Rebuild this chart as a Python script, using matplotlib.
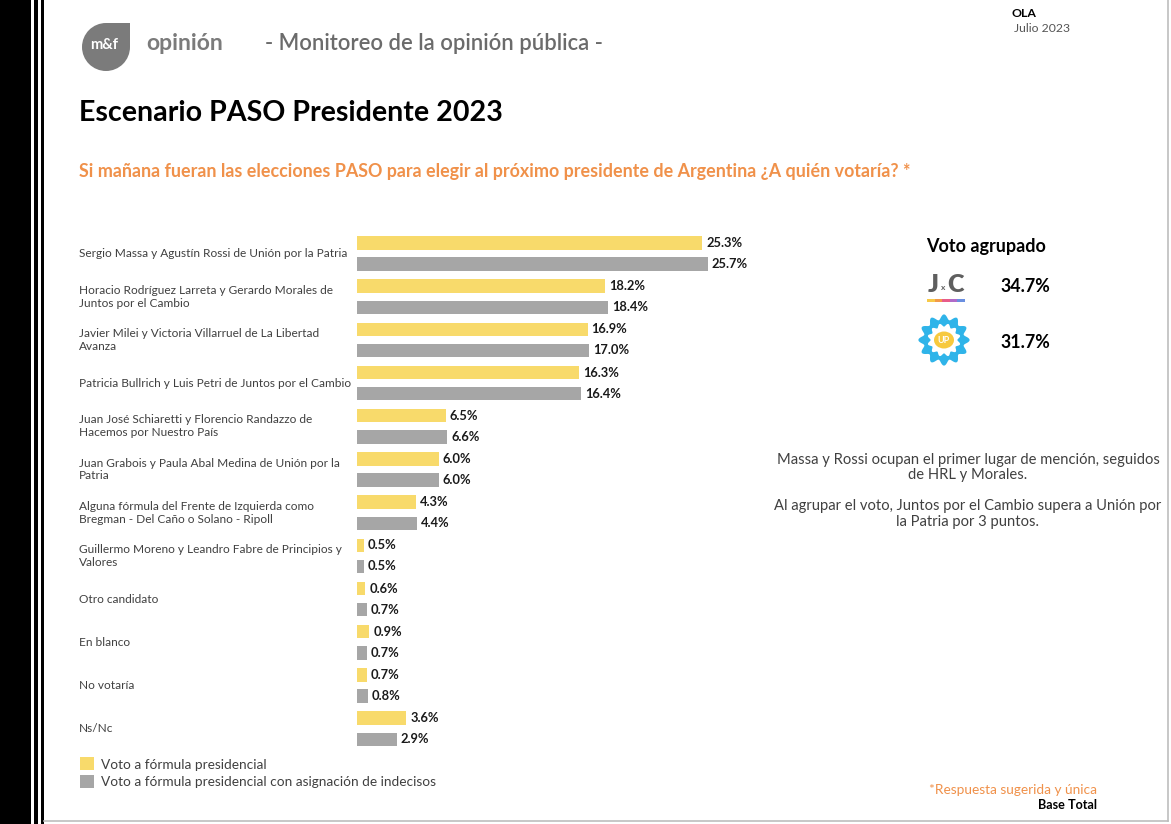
import numpy as np
import matplotlib
matplotlib.use("Agg")
import matplotlib.pyplot as plt
import matplotlib.transforms as mtransforms
from matplotlib.patches import Rectangle, Circle, Polygon, Ellipse

W, H = 1171, 824

categories = [
    "Sergio Massa y Agustín Rossi de Unión por la Patria",
    "Horacio Rodríguez Larreta y Gerardo Morales de\nJuntos por el Cambio",
    "Javier Milei y Victoria Villarruel de La Libertad\nAvanza",
    "Patricia Bullrich y Luis Petri de Juntos por el Cambio",
    "Juan José Schiaretti y Florencio Randazzo de\nHacemos por Nuestro País",
    "Juan Grabois y Paula Abal Medina de Unión por la\nPatria",
    "Alguna fórmula del Frente de Izquierda como\nBregman - Del Caño o Solano - Ripoll",
    "Guillermo Moreno y Leandro Fabre de Principios y\nValores",
    "Otro candidato",
    "En blanco",
    "No votaría",
    "Ns/Nc",
]
voto_formula = [25.3, 18.2, 16.9, 16.3, 6.5, 6.0, 4.3, 0.5, 0.6, 0.9, 0.7, 3.6]
voto_indecisos = [25.7, 18.4, 17.0, 16.4, 6.6, 6.0, 4.4, 0.5, 0.7, 0.7, 0.8, 2.9]
series_names = ["Voto a fórmula presidencial",
                "Voto a fórmula presidencial con asignación de indecisos"]

agrupado_labels = ["JxC", "UP"]
agrupado_values = [34.7, 31.7]

YELLOW = "#F8DA6B"
GRAY = "#A6A6A6"
ORANGE = "#F0914A"
DARK = "#404040"
FONT = "Lato"

plt.rcParams["font.family"] = [FONT, "DejaVu Sans"]


def fx(x):
    return x / W


def fy(y):
    return 1 - y / H


fig = plt.figure(figsize=(W / 100, H / 100), dpi=100)
fig.patch.set_facecolor("white")

# page decoration: black bars on the left, thin frame on right/bottom
deco = fig.add_axes([0, 0, 1, 1])
deco.set_xlim(0, W)
deco.set_ylim(H, 0)
deco.axis("off")
deco.add_patch(Rectangle((0, 0), 31, H, color="black", lw=0))
deco.add_patch(Rectangle((34, 0), 3.5, H, color="black", lw=0))
deco.add_patch(Rectangle((41, 0), 3, H, color="black", lw=0))
deco.plot([1168, 1168], [0, 821], color="#BDBDBD", lw=1.2)
deco.plot([44, 1168], [821, 821], color="#BDBDBD", lw=1.2)

# logo m&f
logo_c = "#7B7B7B"
deco.add_patch(Circle((106, 47), 24, color=logo_c, lw=0))
deco.add_patch(Polygon([(106, 23), (130, 23), (130, 47), (106, 47)], color=logo_c, lw=0))
deco.text(104, 45, "m&f", color="white", fontsize=10.5, fontweight="bold",
          ha="center", va="center")
deco.text(146, 43, "opinión", color=logo_c, fontsize=16.5, fontweight="bold",
          ha="left", va="center")
deco.text(265, 43, "- Monitoreo de la opinión pública -", color="#6B6B6B",
          fontsize=15.8, fontweight="semibold", ha="left", va="center")

deco.text(1012, 13, "OLA", color="black", fontsize=8.8, fontweight="bold",
          ha="left", va="center")
deco.text(1014, 28, "Julio 2023", color="#555555", fontsize=8.8,
          ha="left", va="center")

deco.text(79, 113, "Escenario PASO Presidente 2023", color="black",
          fontsize=20.6, fontweight="bold", ha="left", va="center")
deco.text(79, 171, "Si mañana fueran las elecciones PASO para elegir al próximo "
          "presidente de Argentina ¿A quién votaría? *", color=ORANGE,
          fontsize=12.9, fontweight="bold", ha="left", va="center")

# bar chart
px_per_unit = 13.64
row_px = 43.2
top_center = 253.5
n = len(categories)
y_top = top_center - 0.5 * row_px
y_bot = top_center + (n - 0.5) * row_px
x_w = 420
ax = fig.add_axes([fx(357), fy(y_bot), x_w / W, (y_bot - y_top) / H])
ax.set_xlim(0, x_w / px_per_unit)
ax.set_ylim(n - 0.5, -0.5)
ax.axis("off")

pos = np.arange(n)
off = 0.245
bh = 0.31
ax.barh(pos - off, voto_formula, height=bh, color=YELLOW, lw=0)
ax.barh(pos + off, voto_indecisos, height=bh, color=GRAY, lw=0)
for i in range(n):
    ax.text(voto_formula[i] + 0.3, pos[i] - off, f"{voto_formula[i]:.1f}%",
            fontsize=9.3, fontweight="bold", color="#1a1a1a", va="center", ha="left")
    ax.text(voto_indecisos[i] + 0.3, pos[i] + off, f"{voto_indecisos[i]:.1f}%",
            fontsize=9.3, fontweight="bold", color="#1a1a1a", va="center", ha="left")

blend = mtransforms.blended_transform_factory(fig.transFigure, ax.transData)
for i, lab in enumerate(categories):
    fig.text(fx(79), pos[i], lab, transform=blend, fontsize=8.6, color=DARK,
             ha="left", va="center", linespacing=1.2)

# legend
deco.add_patch(Rectangle((80, 757), 14, 13, color=YELLOW, lw=0))
deco.add_patch(Rectangle((80, 775), 14, 13, color=GRAY, lw=0))
deco.text(101, 765, series_names[0], fontsize=9.8, color=DARK, ha="left", va="center")
deco.text(101, 782, series_names[1], fontsize=9.8, color=DARK, ha="left", va="center")

# voto agrupado panel
deco.text(986, 246, "Voto agrupado", fontsize=13, fontweight="bold",
          color="black", ha="center", va="center")
deco.text(1000, 286, f"{agrupado_values[0]:.1f}%", fontsize=12.8,
          fontweight="bold", color="black", ha="left", va="center")
deco.text(1000, 342, f"{agrupado_values[1]:.1f}%", fontsize=12.8,
          fontweight="bold", color="black", ha="left", va="center")

# JxC icon
deco.text(933, 285, "J", fontsize=18, fontweight="heavy", color="#5F5F5F",
          ha="center", va="center")
deco.text(943.5, 287, "x", fontsize=6, fontweight="bold", color="#5F5F5F",
          ha="center", va="center")
deco.text(956, 285, "C", fontsize=18, fontweight="heavy", color="#5F5F5F",
          ha="center", va="center")
stripe_cols = ["#F7C948", "#F29A4A", "#E85C8A", "#B06AC8", "#6A8FE0"]
for k, c in enumerate(stripe_cols):
    deco.add_patch(Rectangle((927 + k * 7.6, 298.5), 7.6, 3, color=c, lw=0))

# UP icon (sun)
cx, cy = 944, 340
th = np.linspace(0, 2 * np.pi, 400)
r = 23 + 2.6 * np.cos(12 * th)
deco.add_patch(Polygon(np.column_stack([cx + r * np.cos(th), cy + r * np.sin(th)]),
                       closed=True, color="#2FB4E9", lw=0))
r2 = 15 + 1.6 * np.cos(12 * th + np.pi)
deco.add_patch(Polygon(np.column_stack([cx + r2 * np.cos(th), cy + r2 * np.sin(th)]),
                       closed=True, color="white", lw=0))
deco.add_patch(Ellipse((cx, cy), 20, 17, color="#F7C93E", lw=0))
deco.text(cx, cy, "UP", fontsize=6.5, fontweight="bold", color="white",
          ha="center", va="center")

# commentary
comment_1 = ("Massa y Rossi ocupan el primer lugar de mención, seguidos\n"
             "de HRL y Morales.")
comment_2 = ("Al agrupar el voto, Juntos por el Cambio supera a Unión por\n"
             "la Patria por 3 puntos.")
deco.text(968, 467.5, comment_1, fontsize=10.6, color=DARK, ha="center",
          va="center", linespacing=1.15)
deco.text(968, 514, comment_2, fontsize=10.6, color=DARK, ha="center",
          va="center", linespacing=1.15)

deco.text(1097, 790, "*Respuesta sugerida y única", fontsize=9.8, color=ORANGE,
          ha="right", va="center")
deco.text(1097, 805, "Base Total", fontsize=9.1, fontweight="bold", color="black",
          ha="right", va="center")

fig.savefig("out.png", dpi=100)
